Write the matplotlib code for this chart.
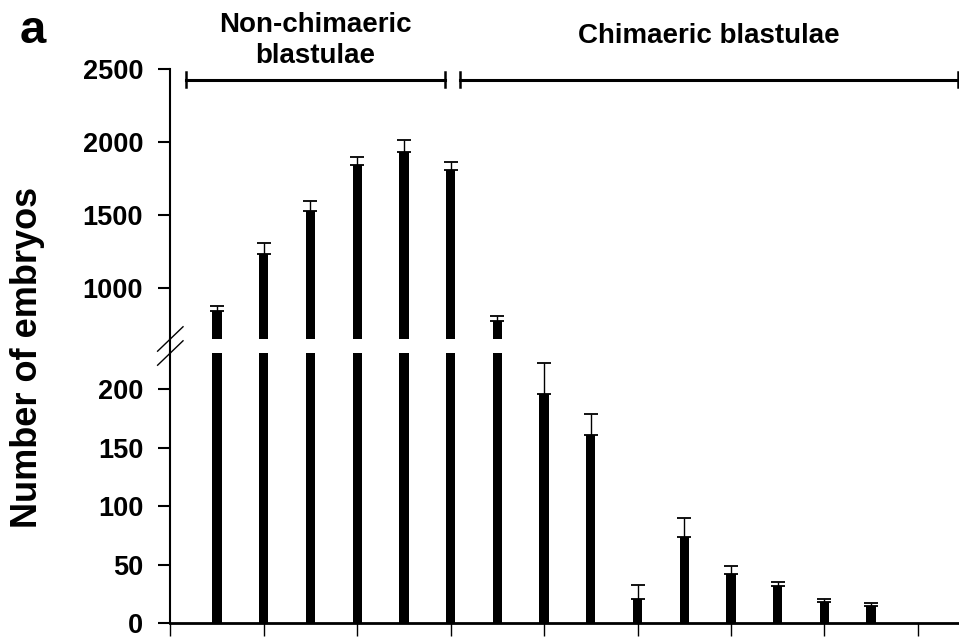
import matplotlib
matplotlib.use("Agg")
import matplotlib.pyplot as plt
import numpy as np
from matplotlib.lines import Line2D

FONT = "Liberation Sans"
TICK_FONT_SIZE = 19.5
LABEL_FONT_SIZE = 26
GROUP_FONT_SIZE = 20
PANEL_FONT_SIZE = 34
BAR_WIDTH = 0.2

# bar values (mean + upper error)
positions = np.arange(1, 16)
counts = [840, 1232, 1527, 1839, 1933, 1807, 771, 196, 161, 21, 74, 42, 32, 18, 15]
errors = [36, 71, 69, 58, 83, 53, 36, 26, 18, 12, 16, 7, 3, 2.6, 2.6]

upper_ticks = [1000, 1500, 2000, 2500]
lower_ticks = [0, 50, 100, 150, 200]
x_ticks = np.arange(0, 17, 2)

group_labels = ["Non-chimaeric\nblastulae", "Chimaeric blastulae"]
group_spans = [(0.33, 5.88), (6.20, 16.85)]

plt.rcParams["font.family"] = FONT
plt.rcParams["font.weight"] = "bold"

fig = plt.figure(figsize=(9.59, 6.38), dpi=100)
ax_top = fig.add_axes([0.1776, 0.4687, 0.8224, 0.4232])
ax_bot = fig.add_axes([0.1776, 0.0230, 0.8224, 0.4237])

for ax in (ax_top, ax_bot):
    ax.bar(positions, counts, BAR_WIDTH, color="black")
    ax.errorbar(
        positions,
        counts,
        yerr=[np.zeros(len(errors)), errors],
        fmt="none",
        ecolor="black",
        elinewidth=1.0,
        capsize=5,
        capthick=1.3,
    )
    ax.set_xlim(0, 16.88)
    ax.spines["top"].set_visible(False)
    ax.spines["right"].set_visible(False)
    ax.spines["left"].set_linewidth(1.5)
    ax.tick_params(axis="y", direction="out", length=8.5, width=1.5,
                   labelsize=TICK_FONT_SIZE, pad=11)

ax_top.set_ylim(648, 2500)
ax_top.set_yticks(upper_ticks)
ax_top.set_yticklabels([str(t) for t in upper_ticks], fontweight="bold")
ax_top.spines["bottom"].set_visible(False)
ax_top.set_xticks([])

ax_bot.set_ylim(0, 230.7)
ax_bot.set_yticks(lower_ticks)
ax_bot.set_yticklabels([str(t) for t in lower_ticks], fontweight="bold")
ax_bot.spines["bottom"].set_linewidth(2.0)
ax_bot.set_xticks(x_ticks)
ax_bot.set_xticklabels([])
ax_bot.tick_params(axis="x", direction="out", length=9, width=1.0)

# keep the left spine running through the gap
x0 = ax_top.get_position().x0
fig.add_artist(Line2D([x0, x0], [ax_bot.get_position().y1, ax_top.get_position().y0],
                      transform=fig.transFigure, color="black", lw=1.5))

# break marks
dx = 12.7 / (959 * 0.8224)
for ax, h in ((ax_top, 0.4232), (ax_bot, 0.4237)):
    dy = 12.2 / (638 * h)
    yb = 0 if ax is ax_top else 1
    ax.plot([-dx, dx], [yb - dy, yb + dy], transform=ax.transAxes,
            color="black", lw=1.0, clip_on=False)

# group brackets and their labels
bracket_y = 2425
cap_h = 51
for (xa, xb), text in zip(group_spans, group_labels):
    ax_top.plot([xa, xb], [bracket_y, bracket_y], color="black", lw=2.2, clip_on=False)
    for xc in (xa, xb):
        ax_top.plot([xc, xc], [bracket_y - cap_h, bracket_y + cap_h],
                    color="black", lw=1.8, clip_on=False)
    ty = 2541 if "\n" in text else 2678
    ax_top.text((xa + xb) / 2, ty, text, ha="center", va="baseline",
                fontsize=GROUP_FONT_SIZE, fontweight="bold", linespacing=1.25)

fig.text(28 / 959, 1 - 357.5 / 638, "Number of embryos", rotation=90,
         ha="center", va="center", fontsize=LABEL_FONT_SIZE, fontweight="bold")
fig.text(20 / 959, 1 - 43 / 638, "a", ha="left", va="baseline",
         fontsize=PANEL_FONT_SIZE, fontweight="bold")

fig.savefig("out.png", dpi=100)
